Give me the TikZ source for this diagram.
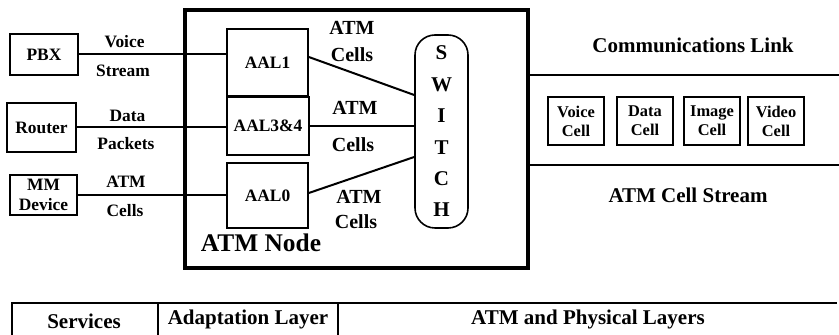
\documentclass[tikz,border=0pt]{standalone}
\usepackage{fontspec}
\setmainfont{Liberation Serif}
\usetikzlibrary{positioning,calc}

\begin{document}
\begin{tikzpicture}[x=0.5pt, y=-0.5pt,
    devbox/.style={rectangle, draw, line width=0.8pt, inner sep=0pt,
                   align=center, font=\fontsize{8.7}{10}\selectfont\bfseries},
    aalbox/.style={devbox, minimum width=40.5pt},
    cellbox/.style={rectangle, draw, line width=0.8pt, inner sep=0pt, align=center,
                    minimum width=28pt, minimum height=24pt,
                    font=\fontsize{8.2}{9.5}\selectfont\bfseries},
    lbl/.style={inner sep=0pt, font=\fontsize{8.7}{10}\selectfont\bfseries},
    celllbl/.style={inner sep=0pt, font=\fontsize{10}{12}\selectfont\bfseries},
    biglbl/.style={inner sep=0pt, font=\fontsize{10.5}{12}\selectfont\bfseries},
    wire/.style={line width=1pt}
]
\useasboundingbox (0,0) rectangle (839,335);

% ATM node frame
\node[draw, line width=2pt, minimum width=171.5pt, minimum height=129pt] (atmnode) at (356.5,139) {};
\node[inner sep=0pt, font=\fontsize{12.7}{14}\selectfont\bfseries] (nodelbl) at (261,243) {ATM Node};

% Services
\node[devbox, minimum width=34pt, minimum height=20.5pt] (pbx) at (44,54.5) {PBX};
\node[devbox, minimum width=34.5pt, minimum height=24.5pt] (router) at (41.5,127.5) {Router};
\node[devbox, minimum width=33.5pt, minimum height=20pt] (mm) at (43.5,195) {MM\\Device};

% Adaptation layer
\node[aalbox, minimum height=33.5pt] (aal1) at (267.5,62.5) {AAL1};
\node[aalbox, minimum width=41pt, minimum height=29pt] (aal34) at (268,126) {AAL3\&4};
\node[aalbox, minimum height=32.5pt] (aal0) at (267.5,195.5) {AAL0};

% Switch
\node[draw, line width=0.8pt, rounded corners=10pt, minimum width=26.5pt, minimum height=96.5pt,
      align=center, inner sep=0pt, font=\fontsize{10.5}{15.7}\selectfont\bfseries]
     (switch) at (441.5,131.5) {S\\W\\I\\T\\C\\H};

% Service connections
\draw[wire] (pbx.east) -- (pbx.east -| aal1.west);
\draw[wire] (router.east) -- (router.east -| aal34.west);
\draw[wire] (mm.east) -- (mm.east -| aal0.west);
\node[lbl] (voice) at (124.5,42) {Voice};
\node[lbl] (stream) at (123,71) {Stream};
\node[lbl] (data) at (127.5,116) {Data};
\node[lbl] (packets) at (126,144) {Packets};
\node[lbl] (mmatm) at (126,182) {ATM};
\node[lbl] (mmcells) at (125,211) {Cells};

% Switch connections
\draw[wire] ([yshift=2.75pt]aal1.east) -- ([yshift=18.25pt]switch.west);
\draw[wire] (aal34.east) -- (aal34.east -| switch.west);
\draw[wire] ([yshift=1.25pt]aal0.east) -- ([yshift=-12.75pt]switch.west);
\node[celllbl] (atma) at (352,28) {ATM};
\node[celllbl] (cellsa) at (352,55) {Cells};
\node[celllbl] (atmb) at (355,108) {ATM};
\node[celllbl] (cellsb) at (353,145) {Cells};
\node[celllbl] (atmc) at (359,197) {ATM};
\node[celllbl] (cellsc) at (356,222) {Cells};

% Communications link
\coordinate (linktop) at (839,75);
\coordinate (linkbot) at (839,165);
\draw[line width=0.8pt] (atmnode.east |- linktop) -- (linktop);
\draw[line width=0.8pt] (atmnode.east |- linkbot) -- (linkbot);
\node[biglbl] (linklbl) at (693,45) {Communications Link};
\node[biglbl] (streamlbl) at (688,195) {ATM Cell Stream};
\foreach \name/\txt/\x in {voicec/Voice/576, datac/Data/645, imagec/Image/712, videoc/Video/776}
  \node[cellbox] (\name) at (\x,121) {\txt\\Cell};

% Layer table
\coordinate (tl) at (12,303);
\coordinate (tr) at (837,303);
\coordinate (bl) at (12,335);
\draw[line width=0.8pt] (bl) -- (tl) -- (tr);
\draw[line width=0.8pt] (158,303) -- (158,335);
\draw[line width=0.8pt] (338,303) -- (338,335);
\node[biglbl] (services) at (84,321) {Services};
\node[biglbl] (adaptation) at (248,319) {Adaptation Layer};
\node[biglbl] (physical) at (588,319) {ATM and Physical Layers};
\end{tikzpicture}
\end{document}
